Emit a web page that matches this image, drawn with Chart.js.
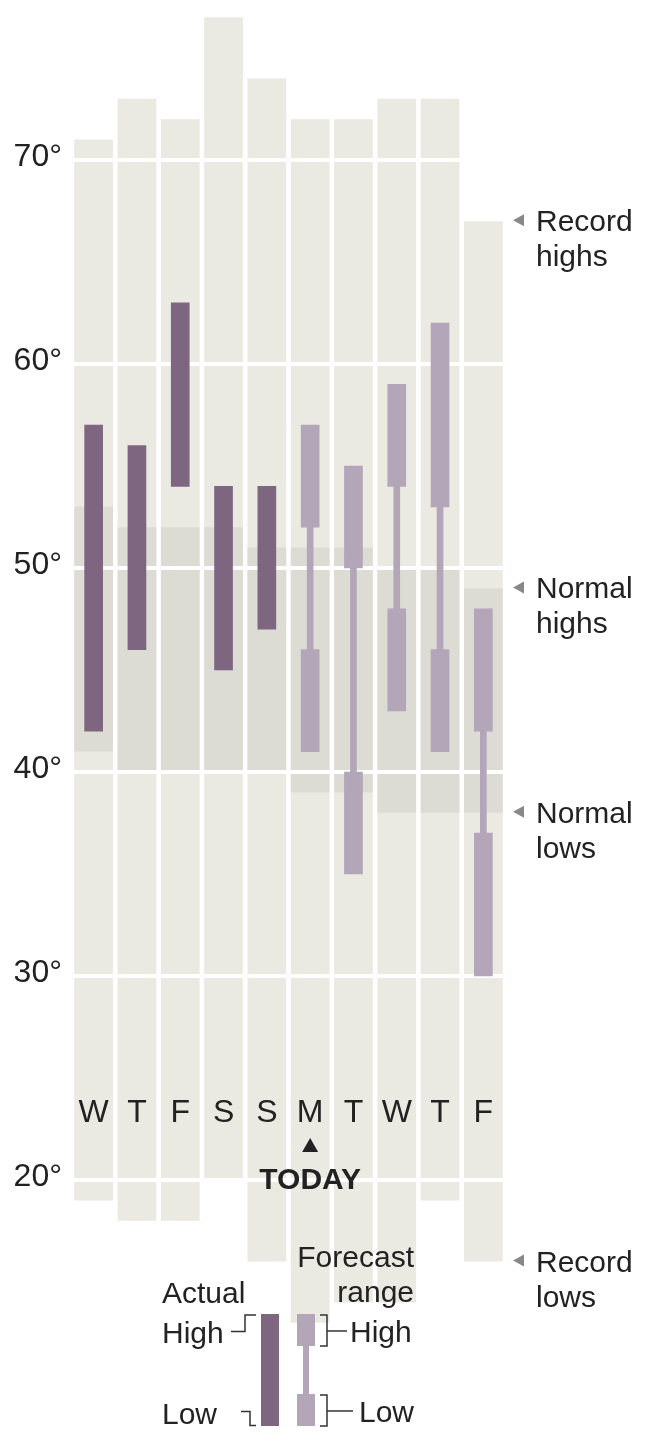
<!DOCTYPE html>
<html>
<head>
<meta charset="utf-8">
<script src="https://cdn.jsdelivr.net/npm/chart.js@4.4.1/dist/chart.umd.min.js"></script>
<style>
  html, body { margin: 0; padding: 0; background: #fff; }
  #wrap { width: 651px; height: 1438px; }
</style>
</head>
<body>
<div id="wrap"><canvas id="temps"></canvas></div>
<script>
// Ten days of temperatures, °F
const days = ["W", "T", "F", "S", "S", "M", "T", "W", "T", "F"];
const todayIndex = 5;
const yTicks = [20, 30, 40, 50, 60, 70];

const recordHigh = [71, 73, 72, 77, 74, 72, 72, 73, 73, 67];
const recordLow  = [19, 18, 18, 20, 16, 13, 14, 14, 19, 16];
const normalHigh = [53, 52, 52, 52, 51, 51, 51, 50, 50, 49];
const normalLow  = [41, 40, 40, 40, 40, 39, 39, 38, 38, 38];

const actualHigh = [57, 56, 63, 54, 54, null, null, null, null, null];
const actualLow  = [42, 46, 54, 45, 47, null, null, null, null, null];

// forecast: a range for the high and a range for the low
const fcHighTop    = [null, null, null, null, null, 57, 55, 59, 62, 48];
const fcHighBottom = [null, null, null, null, null, 52, 50, 54, 53, 42];
const fcLowTop     = [null, null, null, null, null, 46, 40, 48, 46, 37];
const fcLowBottom  = [null, null, null, null, null, 41, 35, 43, 41, 30];

const COL = {
  record: "#eae9e2",
  normal: "#dcdbd4",
  actual: "#7e6680",
  forecast: "#b4a6b9",
  text: "#222",
  pointer: "#888",
};
const FONT = "'Liberation Sans', Arial, sans-serif";

const pair = (lo, hi) => lo.map((v, i) => (v == null ? null : [v, hi[i]]));
const NORMAL_IDX = 4;

const overlay = {
  id: "overlay",
  afterDatasetDraw(chart, args) {
    if (args.index !== NORMAL_IDX) return;
    // white gridlines sit over the ranges but under the bars
    const { ctx, chartArea, scales } = chart;
    ctx.save();
    ctx.strokeStyle = "#fff";
    ctx.lineWidth = 4;
    for (const t of yTicks) {
      const y = scales.y.getPixelForValue(t);
      ctx.beginPath();
      ctx.moveTo(chartArea.left, y);
      ctx.lineTo(chartArea.right, y);
      ctx.stroke();
    }
    ctx.restore();
  },
  afterDraw(chart) {
    const { ctx, chartArea, scales } = chart;
    const x = scales.x, y = scales.y;
    ctx.save();
    ctx.fillStyle = COL.text;

    // day letters
    ctx.font = `32px ${FONT}`;
    ctx.textAlign = "center";
    ctx.textBaseline = "alphabetic";
    days.forEach((d, i) => ctx.fillText(d, x.getPixelForValue(i), 1122));

    // today marker
    const tx = x.getPixelForValue(todayIndex);
    ctx.beginPath();
    ctx.moveTo(tx - 8, 1152);
    ctx.lineTo(tx + 8, 1152);
    ctx.lineTo(tx, 1138);
    ctx.closePath();
    ctx.fill();
    ctx.font = `bold 30px ${FONT}`;
    ctx.fillText("TODAY", tx, 1189);

    // right-hand pointers, anchored on the last day's values
    const last = days.length - 1;
    const notes = [
      [recordHigh[last], "Record", "highs"],
      [normalHigh[last], "Normal", "highs"],
      [normalLow[last], "Normal", "lows"],
      [recordLow[last], "Record", "lows"],
    ];
    ctx.font = `30px ${FONT}`;
    ctx.textAlign = "left";
    for (const [v, l1, l2] of notes) {
      const py = y.getPixelForValue(v) - 1;
      const px = chartArea.right + 8;
      ctx.fillStyle = COL.pointer;
      ctx.beginPath();
      ctx.moveTo(px, py);
      ctx.lineTo(px + 11, py - 6);
      ctx.lineTo(px + 11, py + 6);
      ctx.closePath();
      ctx.fill();
      ctx.fillStyle = COL.text;
      ctx.fillText(l1, px + 23, py + 11);
      ctx.fillText(l2, px + 23, py + 46);
    }

    // key
    ctx.font = `30px ${FONT}`;
    ctx.textAlign = "left";
    ctx.fillText("Actual", 162, 1303);
    ctx.fillText("High", 162, 1343);
    ctx.fillText("Low", 162, 1424);
    ctx.textAlign = "right";
    ctx.fillText("Forecast", 414, 1267);
    ctx.fillText("range", 414, 1302);
    ctx.textAlign = "left";
    ctx.fillText("High", 350, 1342);
    ctx.fillText("Low", 359, 1422);

    ctx.fillStyle = COL.actual;
    ctx.fillRect(261, 1314, 18, 112);
    ctx.fillStyle = COL.forecast;
    ctx.fillRect(297, 1314, 18, 32);
    ctx.fillRect(297, 1394, 18, 32);
    ctx.fillRect(303, 1340, 6, 60);

    ctx.strokeStyle = "#333";
    ctx.lineWidth = 1.5;
    const poly = (pts) => {
      ctx.beginPath();
      ctx.moveTo(pts[0][0], pts[0][1]);
      pts.slice(1).forEach((p) => ctx.lineTo(p[0], p[1]));
      ctx.stroke();
    };
    poly([[231, 1331.5], [245, 1331.5], [245, 1315], [256, 1315]]);
    poly([[241, 1411.5], [250, 1411.5], [250, 1425.5], [256, 1425.5]]);
    poly([[320, 1315], [327, 1315], [327, 1346], [320, 1346]]);
    poly([[327, 1331], [347, 1331]]);
    poly([[320, 1395], [327, 1395], [327, 1426], [320, 1426]]);
    poly([[327, 1411], [353, 1411]]);

    ctx.restore();
  },
};

Chart.defaults.font.family = FONT;
Chart.defaults.color = COL.text;

new Chart(document.getElementById("temps"), {
  type: "bar",
  data: {
    labels: days,
    datasets: [
      { data: pair(actualLow, actualHigh), backgroundColor: COL.actual, barThickness: 18, order: 1 },
      { data: pair(fcHighBottom, fcHighTop), backgroundColor: COL.forecast, barThickness: 18, order: 2 },
      { data: pair(fcLowBottom, fcLowTop), backgroundColor: COL.forecast, barThickness: 18, order: 2 },
      { data: pair(fcLowTop, fcHighBottom), backgroundColor: COL.forecast, barThickness: 6, order: 3 },
      { data: pair(normalLow, normalHigh), backgroundColor: COL.normal, categoryPercentage: 0.894, barPercentage: 1, order: 4 },
      { data: pair(recordLow, recordHigh), backgroundColor: COL.record, categoryPercentage: 0.894, barPercentage: 1, order: 5 },
    ],
  },
  options: {
    responsive: true,
    maintainAspectRatio: false,
    animation: false,
    events: [],
    datasets: { bar: { grouped: false, borderWidth: 0 } },
    layout: { padding: { left: 0, right: 146, top: 0, bottom: 0 } },
    plugins: { legend: { display: false }, tooltip: { enabled: false } },
    scales: {
      x: { display: false },
      y: {
        min: 7.353,
        max: 77.843,
        grid: { display: false, drawTicks: false },
        border: { display: false },
        afterFit: (s) => { s.width = 72; s.paddingTop = 0; s.paddingBottom = 0; },
        afterBuildTicks: (s) => { s.ticks = yTicks.map((v) => ({ value: v })); },
        ticks: {
          padding: 10,
          labelOffset: -3,
          font: { size: 32 },
          color: COL.text,
          callback: (v) => v + "°",
        },
      },
    },
  },
  plugins: [overlay],
});
</script>
</body>
</html>
